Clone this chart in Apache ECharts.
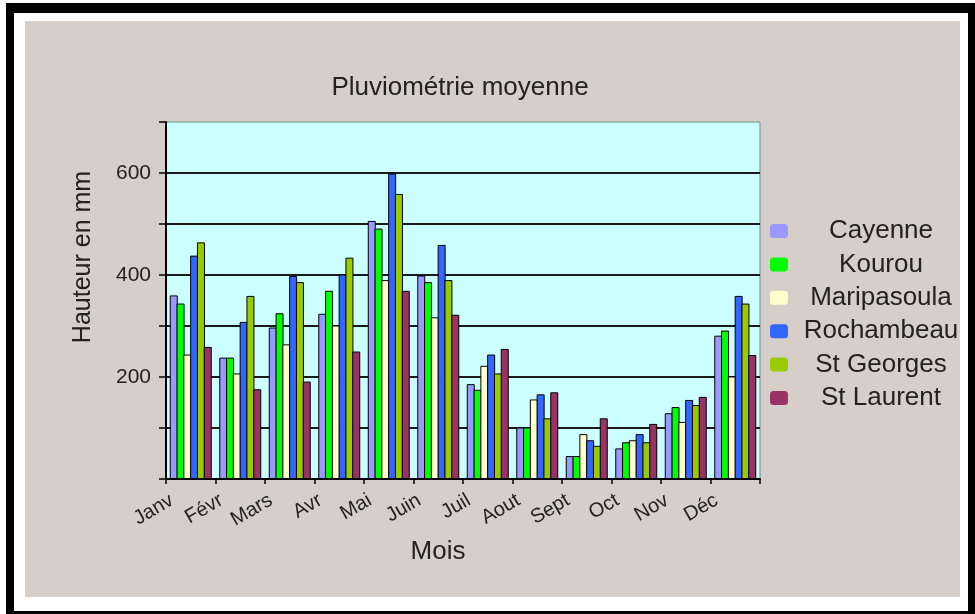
<!DOCTYPE html>
<html>
<head>
<meta charset="utf-8">
<title>Pluviométrie moyenne</title>
<script src="https://cdn.jsdelivr.net/npm/echarts/dist/echarts.min.js"></script>
<style>
  html, body { margin: 0; padding: 0; background: #fff; overflow: hidden; }
  #frame { position: absolute; left: 6px; top: 3px; width: 970px; height: 616px;
           box-sizing: border-box; border-style: solid; border-color: #000;
           border-width: 10px 8px 8px 8px; }
  #panel { position: absolute; left: 25px; top: 21px; width: 935px; height: 576px;
           background: #d6cec8; }
  #chart { position: absolute; left: 0; top: 0; width: 975px; height: 614px; }
</style>
</head>
<body>
<div id="frame"></div>
<div id="panel"></div>
<div id="chart"></div>
<script>
// mois et relevés (mm)
var months = ['Janv', 'Févr', 'Mars', 'Avr', 'Mai', 'Juin', 'Juil', 'Aout', 'Sept', 'Oct', 'Nov', 'Déc'];
var stations = ['Cayenne', 'Kourou', 'Maripasoula', 'Rochambeau', 'St Georges', 'St Laurent'];
var cayenne = [360, 238, 297, 324, 506, 399, 186, 101, 45, 60, 129, 281];
var kourou = [344, 238, 325, 369, 491, 386, 175, 101, 45, 72, 141, 291];
var maripasoula = [244, 207, 264, 301, 390, 317, 222, 156, 88, 76, 112, 201];
var rochambeau = [438, 308, 398, 401, 599, 459, 244, 166, 76, 88, 155, 359];
var stGeorges = [464, 359, 386, 434, 559, 390, 207, 119, 65, 72, 145, 344];
var stLaurent = [259, 176, 191, 250, 369, 322, 255, 170, 119, 108, 161, 243];
var yTicks = [200, 400, 600];

var colors = ['#9999ff', '#00ff00', '#ffffcc', '#3366ff', '#99cc00', '#993366'];
var values = [cayenne, kourou, maripasoula, rochambeau, stGeorges, stLaurent];

var myChart = echarts.init(document.getElementById('chart'));

var series = [];
for (var i = 0; i < stations.length; i++) {
    series.push({
        name: stations[i],
        type: 'bar',
        xAxisIndex: 0,
        yAxisIndex: 0,
        barWidth: 8,
        barGap: '-15%',
        itemStyle: {
            color: colors[i],
            borderColor: '#000',
            borderWidth: 1
        },
        data: values[i]
    });
}

var titleFont = { fontFamily: 'Liberation Sans', fontSize: 26, fontWeight: 'normal', color: '#222' };

var option = {
    textStyle: { fontFamily: 'Liberation Sans' },
    title: [
        { text: 'Pluviométrie moyenne', left: 460, top: 75, padding: 0, textAlign: 'center', textStyle: titleFont },
        { text: 'Mois', left: 438, top: 539, padding: 0, textAlign: 'center', textStyle: titleFont }
    ],
    legend: {
        data: stations,
        orient: 'vertical',
        left: 770,
        top: 218,
        padding: 0,
        itemWidth: 18,
        itemHeight: 14,
        itemGap: 7.4,
        selectedMode: false,
        itemStyle: { borderWidth: 0 },
        formatter: function(name) { return '{a|' + name + '}'; },
        textStyle: {
            rich: {
                a: { width: 176, align: 'center', fontSize: 26, lineHeight: 26,
                     fontFamily: 'Liberation Sans', color: '#222' }
            }
        }
    },
    grid: [
        {
            left: 166,
            right: 215,
            top: 122,
            bottom: 135,
            show: true,
            backgroundColor: '#ccffff',
            borderColor: '#6f8f8f',
            borderWidth: 1
        },
        {
            // grille vide qui porte seulement les noms de mois
            left: 172,
            right: 209,
            top: 122,
            bottom: 135,
            show: false
        }
    ],
    xAxis: [
        {
            type: 'category',
            gridIndex: 0,
            data: months,
            axisLine: { show: true, lineStyle: { color: '#000', width: 2 } },
            axisTick: { show: true, length: 5, lineStyle: { color: '#000', width: 1.5 } },
            axisLabel: { show: false },
            splitLine: { show: false }
        },
        {
            type: 'value',
            gridIndex: 1,
            position: 'bottom',
            min: 0,
            max: 12,
            interval: 1,
            axisLine: { show: false },
            axisTick: { show: false },
            splitLine: { show: false },
            axisLabel: {
                rotate: 30,
                margin: 20,
                fontSize: 20,
                color: '#222',
                formatter: function(v) { return months[v] || ''; }
            }
        }
    ],
    yAxis: [
        {
            type: 'value',
            gridIndex: 0,
            min: 0,
            max: 700,
            interval: 100,
            axisLine: { show: true, lineStyle: { color: '#000', width: 2 } },
            axisTick: { show: true, length: 7, lineStyle: { color: '#000', width: 1.5 } },
            axisLabel: {
                margin: 15,
                fontSize: 21,
                color: '#222',
                formatter: function(v) { return yTicks.indexOf(v) >= 0 ? String(v) : ''; }
            },
            splitLine: {
                show: true,
                showMinLine: false,
                showMaxLine: false,
                lineStyle: { color: '#1a1a1a', width: 2 }
            }
        },
        {
            type: 'value',
            gridIndex: 1,
            min: 0,
            max: 700,
            show: false
        }
    ],
    graphic: [
        {
            type: 'text',
            x: 83,
            y: 257,
            rotation: Math.PI / 2,
            style: {
                text: 'Hauteur en mm',
                font: '25px "Liberation Sans"',
                fill: '#222',
                align: 'center',
                verticalAlign: 'middle'
            }
        }
    ],
    series: series
};

myChart.setOption(option);
</script>
</body>
</html>
